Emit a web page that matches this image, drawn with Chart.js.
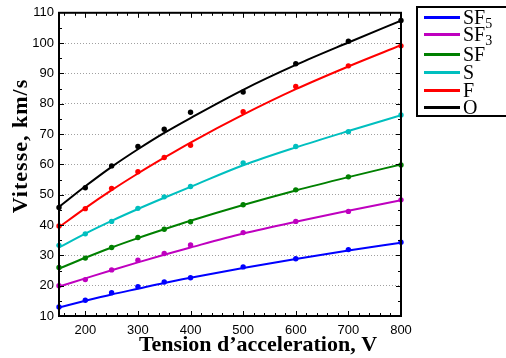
<!DOCTYPE html>
<html><head><meta charset="utf-8">
<script src="https://cdn.jsdelivr.net/npm/chart.js@4"></script>
<style>
html,body{margin:0;padding:0;background:#fff;}
#wrap{position:relative;width:506px;height:358px;overflow:hidden;}
canvas{position:absolute;left:0;top:0;}
#legend{position:absolute;left:416px;top:6px;width:110px;height:111px;border:2px solid #000;box-sizing:border-box;background:#fff;font-family:"Liberation Serif",serif;font-size:20px;color:#000;}
.sw{position:absolute;left:6px;width:36px;height:3px;}
.lab{position:absolute;left:45px;height:20px;line-height:20px;white-space:nowrap;}
.lab sub{font-size:14px;vertical-align:-4px;line-height:0;}
</style>
</head><body>
<div id="wrap"><canvas id="c" width="506" height="358"></canvas><div id="legend"></div></div>
<script>
// ---- data ----
const voltages = [150, 200, 250, 300, 350, 400, 500, 600, 700, 800];
const xTicks = [200, 300, 400, 500, 600, 700, 800];
const yTicks = [10, 20, 30, 40, 50, 60, 70, 80, 90, 100, 110];
const seriesNames = ["SF5", "SF3", "SF", "S", "F", "O"];
const seriesMain = ["SF", "SF", "SF", "S", "F", "O"];
const seriesSub = ["5", "3", "", "", "", ""];
const seriesColors = ["#0000ff", "#bf00bf", "#008000", "#00bfbf", "#ff0000", "#000000"];
const xTitle = "Tension d\u2019acceleration, V";
const yTitle = "Vitesse, km/s";

// measured points
const measSF5 = [13.0, 15.2, 17.7, 19.7, 21.2, 22.6, 26.2, 28.9, 31.9, 34.3];
const measSF3 = [20.0, 22.0, 25.2, 28.4, 30.6, 33.4, 37.5, 41.2, 44.5, 48.3];
const measSF  = [26.0, 29.1, 32.6, 35.9, 38.6, 41.1, 46.7, 51.6, 55.9, 59.8];
const measS   = [33.3, 37.1, 41.2, 45.5, 49.3, 52.7, 60.5, 65.9, 70.8, 76.3];
const measF   = [39.7, 45.4, 52.1, 57.6, 62.3, 66.3, 77.4, 85.7, 92.5, 99.1];
const measO   = [45.8, 52.3, 59.5, 65.9, 71.6, 77.2, 83.9, 93.2, 100.6, 107.5];

// fitted curves
const fitSF5 = [12.8, 15.0, 17.1, 19.0, 20.9, 22.6, 25.8, 28.8, 31.6, 34.2];
const fitSF3 = [19.7, 22.4, 25.1, 27.7, 30.2, 32.6, 37.2, 41.1, 44.7, 48.2];
const fitSF  = [25.6, 29.2, 32.6, 35.7, 38.6, 41.4, 46.6, 51.4, 55.8, 60.0];
const fitS   = [32.6, 37.2, 41.4, 45.3, 49.0, 52.6, 59.7, 65.6, 71.0, 76.2];
const fitF   = [39.3, 45.6, 51.5, 57.0, 62.2, 67.2, 76.4, 84.8, 92.3, 99.3];
const fitO   = [46.0, 52.8, 59.2, 65.0, 70.4, 75.3, 84.6, 92.8, 100.2, 107.4];

const measured = [measSF5, measSF3, measSF, measS, measF, measO];
const fitted = [fitSF5, fitSF3, fitSF, fitS, fitF, fitO];

// ---- build datasets ----
const datasets = [];
seriesNames.forEach((name, i) => {
  datasets.push({
    label: name + " fit",
    data: voltages.map((v, j) => ({x: v, y: fitted[i][j]})),
    showLine: true, pointRadius: 0, borderColor: seriesColors[i], borderWidth: 2,
    cubicInterpolationMode: 'monotone', order: 2
  });
  datasets.push({
    label: name,
    data: voltages.map((v, j) => ({x: v, y: measured[i][j]})),
    showLine: false, pointRadius: 2.7, pointBackgroundColor: seriesColors[i],
    pointBorderWidth: 0, borderColor: seriesColors[i], clip: false, order: 1
  });
});

const frameTicks = {
  id: 'frameTicks',
  afterDraw(chart) {
    const {ctx, chartArea: a, scales: {x, y}} = chart;
    ctx.save();
    ctx.strokeStyle = '#000';
    ctx.lineWidth = 1;
    ctx.beginPath();
    for (let v = 160; v < 800; v += 20) {
      const len = v % 100 === 0 ? 5 : 3;
      const px = Math.round(x.getPixelForValue(v)) + 0.5;
      ctx.moveTo(px, a.bottom); ctx.lineTo(px, a.bottom - len);
      ctx.moveTo(px, a.top); ctx.lineTo(px, a.top + len);
    }
    for (let v = 15; v < 110; v += 5) {
      const len = v % 10 === 0 ? 5 : 3;
      const py = Math.round(y.getPixelForValue(v)) + 0.5;
      ctx.moveTo(a.left, py); ctx.lineTo(a.left + len, py);
      ctx.moveTo(a.right, py); ctx.lineTo(a.right - len, py);
    }
    ctx.stroke();
    ctx.lineWidth = 2;
    ctx.strokeRect(a.left, a.top, a.width, a.height);

    // axis titles
    ctx.fillStyle = '#000';
    ctx.font = 'bold 22px "Liberation Serif"';
    ctx.textAlign = 'center';
    ctx.textBaseline = 'alphabetic';
    ctx.fillText(xTitle, 258, 351);
    ctx.translate(27, 146);
    ctx.rotate(-Math.PI / 2);
    try { ctx.letterSpacing = '1px'; } catch (e) {}
    ctx.fillText(yTitle, 0, 0);
    ctx.restore();
  }
};

new Chart(document.getElementById('c'), {
  type: 'scatter',
  data: {datasets},
  options: {
    responsive: false, animation: false,
    layout: {padding: {top: 7, right: 105, left: 0, bottom: 0}},
    plugins: {legend: {display: false}, tooltip: {enabled: false}},
    scales: {
      x: {
        type: 'linear', min: 150, max: 800,
        afterBuildTicks: s => { s.ticks = xTicks.map(v => ({value: v})); },
        afterFit: s => { s.height = 42; },
        grid: {display: false, drawTicks: false},
        border: {display: false},
        ticks: {color: '#000', font: {family: 'Liberation Sans', size: 13}, padding: 7, maxRotation: 0},
        title: {display: false}
      },
      y: {
        min: 10, max: 110,
        afterBuildTicks: s => { s.ticks = yTicks.map(v => ({value: v})); },
        afterFit: s => { s.width = 59; },
        grid: {color: '#a0a0a0', lineWidth: 1, drawTicks: false},
        border: {display: false, dash: [1, 2]},
        ticks: {color: '#000', font: {family: 'Liberation Sans', size: 13}, padding: 5},
        title: {display: false}
      }
    }
  },
  plugins: [frameTicks]
});

// ---- legend ----
const rowCenters = [9, 26, 46, 64, 82, 99];
const leg = document.getElementById('legend');
seriesNames.forEach((name, i) => {
  const sw = document.createElement('div');
  sw.className = 'sw';
  sw.style.background = seriesColors[i];
  sw.style.top = (rowCenters[i] - 1.5) + 'px';
  leg.appendChild(sw);
  const lab = document.createElement('div');
  lab.className = 'lab';
  lab.style.top = (rowCenters[i] - 10) + 'px';
  lab.innerHTML = seriesMain[i] + (seriesSub[i] ? '<sub>' + seriesSub[i] + '</sub>' : '');
  leg.appendChild(lab);
});
</script>
</body></html>
